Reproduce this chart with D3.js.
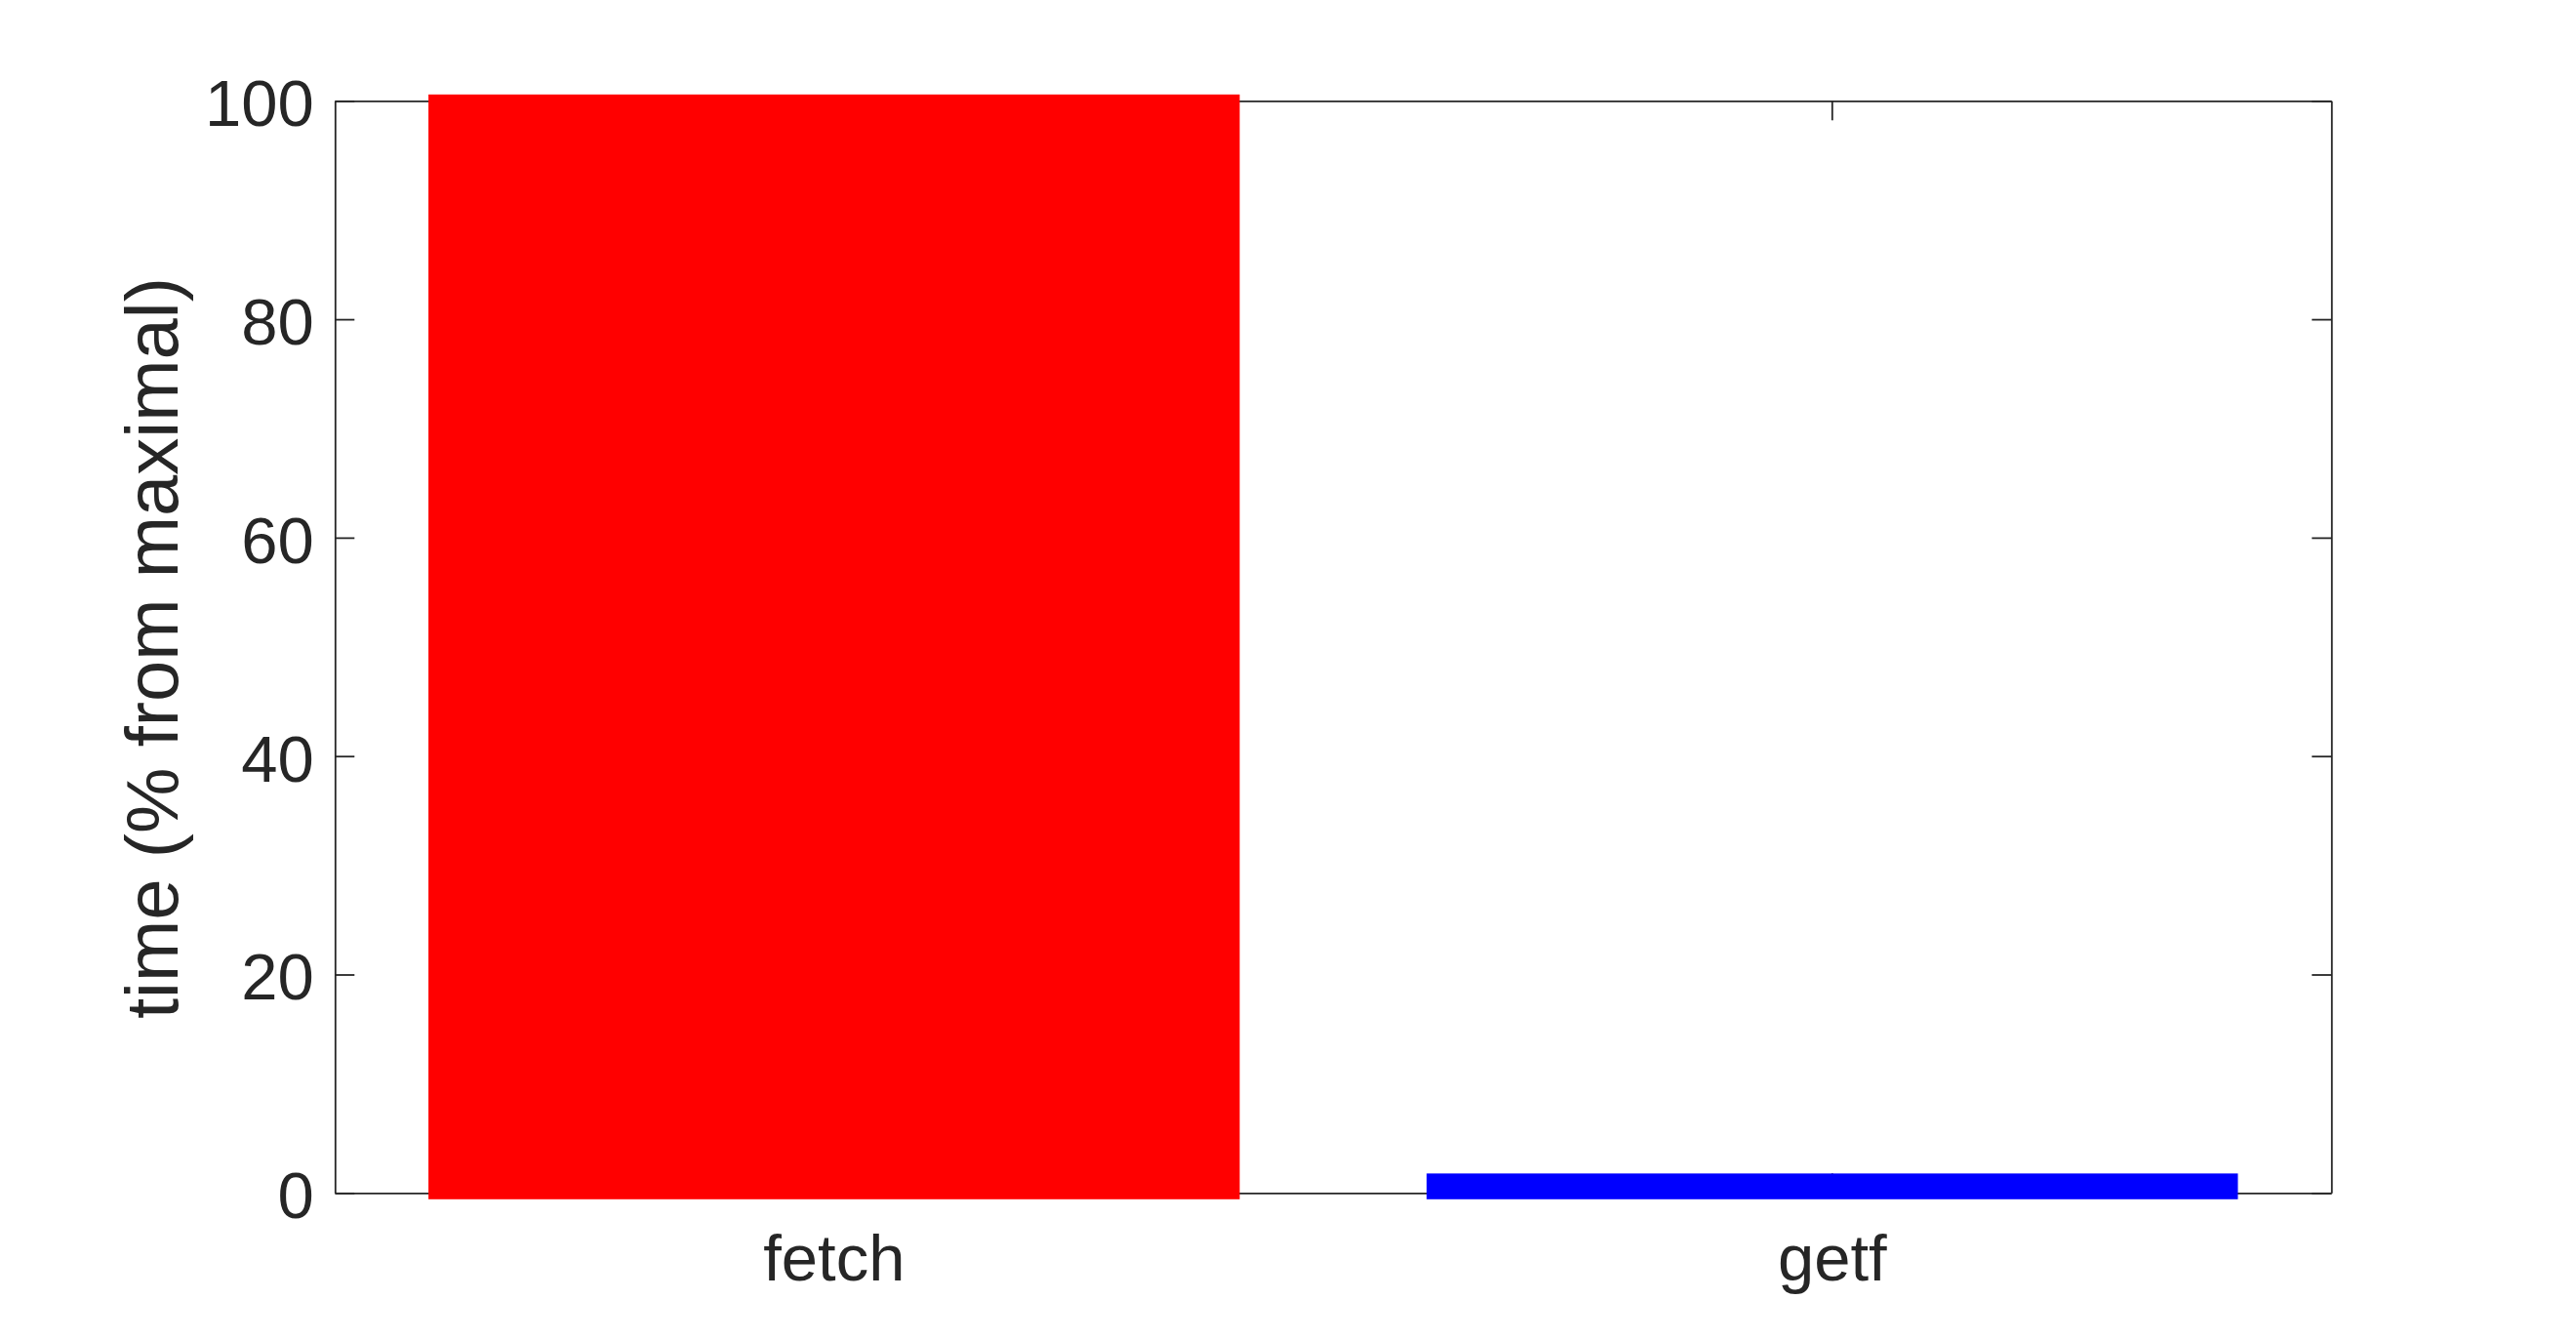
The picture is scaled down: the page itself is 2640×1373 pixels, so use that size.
<!DOCTYPE html>
<html>
<head>
<meta charset="utf-8">
<script src="https://cdn.jsdelivr.net/npm/d3@7"></script>
<style>
  body { margin: 0; background: #fff; }
  text { font-family: "Liberation Sans", Arial, Helvetica, sans-serif; fill: #262626; }
  .axis path, .axis line { stroke: #262626; stroke-width: 1.8; }
</style>
</head>
<body>
<svg id="chart" width="2640" height="1373"></svg>
<script>
// data
const categories = ['fetch', 'getf'];
const values = [100, 1.2];
const barColors = ['#ff0000', '#0000ff'];
const yTicks = [0, 20, 40, 60, 80, 100];
const yLabel = 'time (% from maximal)';

let margin = {top: 103.3, right: 2640 - 2389.3, bottom: 1373 - 1222.3, left: 343.3},
  width = 2640 - margin.left - margin.right,
  height = 1373 - margin.top - margin.bottom;

let svg = d3.select('#chart');

let x = d3.scaleBand().domain(categories).range([0, width])
  .paddingInner(0.2).paddingOuter(0.1);
let y = d3.scaleLinear().domain([0, 100]).range([height, 0]);

let g = svg.append('g')
  .attr('transform', 'translate(' + margin.left + ',' + margin.top + ')');

// axes first, bars are drawn on top of them
g.append('g')
  .attr('class', 'axis axis--x')
  .attr('transform', 'translate(0,' + height + ')')
  .call(d3.axisBottom(x).tickSize(-20).tickSizeOuter(0).tickPadding(41.8))
  .selectAll('text').style('font-size', '67px');

g.append('g')
  .attr('class', 'axis axis--top')
  .call(d3.axisTop(x).tickSize(-20).tickSizeOuter(0).tickFormat(''));

g.append('g')
  .attr('class', 'axis axis--y')
  .call(d3.axisLeft(y).tickValues(yTicks).tickSize(-20).tickSizeOuter(0).tickPadding(21.6))
  .selectAll('text').style('font-size', '67px').attr('dy', '0.38em');

g.append('g')
  .attr('class', 'axis axis--right')
  .attr('transform', 'translate(' + width + ',0)')
  .call(d3.axisRight(y).tickValues(yTicks).tickSize(-20).tickSizeOuter(0).tickFormat(''));

svg.selectAll('.domain').attr('fill', 'none');

g.selectAll('.bar')
  .data(categories)
  .enter().append('rect')
  .attr('class', 'bar')
  .attr('x', function (d) { return x(d); })
  .attr('y', function (d, i) { return y(values[i]); })
  .attr('width', x.bandwidth())
  .attr('height', function (d, i) { return height - y(values[i]); })
  .attr('fill', function (d, i) { return barColors[i]; })
  .attr('stroke', function (d, i) { return barColors[i]; })
  .attr('stroke-width', 13);

svg.append('text')
  .attr('transform', 'translate(181.7,' + 664 + ') rotate(-90)')
  .attr('text-anchor', 'middle')
  .style('font-size', '76px')
  .text(yLabel);
</script>
</body>
</html>
